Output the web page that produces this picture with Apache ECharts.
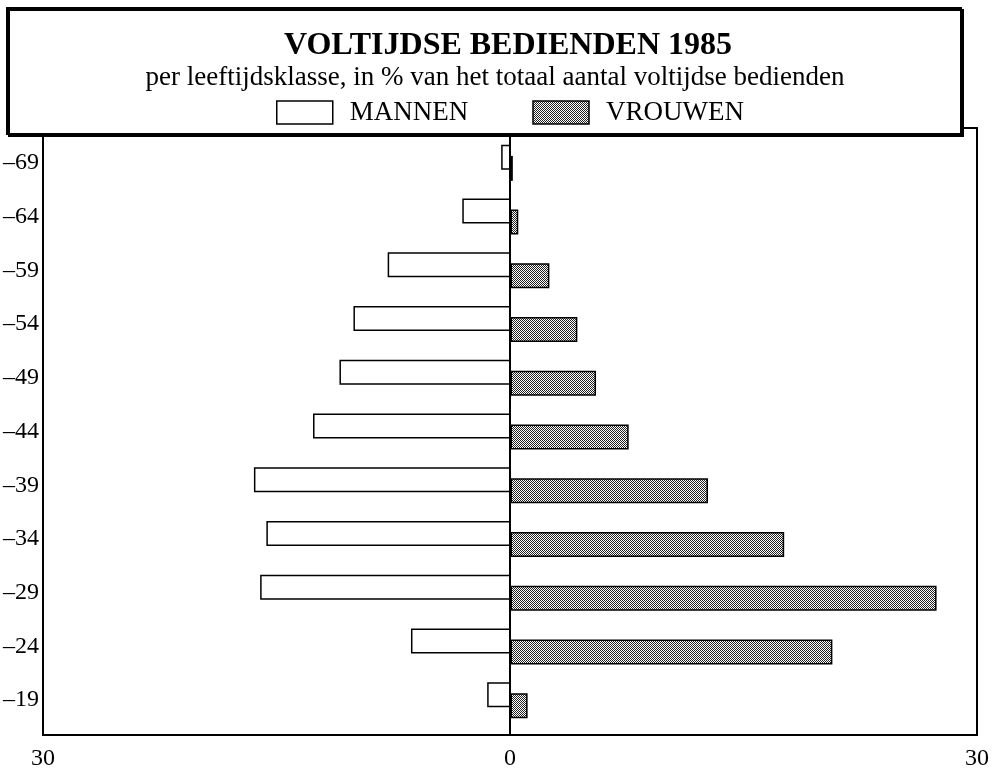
<!DOCTYPE html>
<html lang="nl">
<head>
<meta charset="UTF-8">
<title>Voltijdse bedienden 1985</title>
<script src="https://cdn.jsdelivr.net/npm/echarts@6/dist/echarts.min.js"></script>
</head>
<body style="margin:0;background:#fff">
<div id="chart" style="width:1003px;height:778px"></div>
<script>
    // leeftijdsklassen van onder naar boven
    var ageClasses = ['–19', '–24', '–29', '–34', '–39', '–44', '–49', '–54', '–59', '–64', '–69'];
    var mannen = [1.5, 6.4, 16.1, 15.7, 16.5, 12.7, 11.0, 10.1, 7.9, 3.1, 0.6];
    var vrouwen = [1.1, 20.7, 27.4, 17.6, 12.7, 7.6, 5.5, 4.3, 2.5, 0.5, 0.15];
    var xTicks = [-30, 0, 30];

    var FONT = '"Liberation Serif", "DejaVu Serif", serif';

    // grijs rasterpatroon voor de vrouwen
    function makeHatch() {
        var c = document.createElement('canvas');
        c.width = 4; c.height = 4;
        var ctx = c.getContext('2d');
        ctx.fillStyle = '#fff';
        ctx.fillRect(0, 0, 4, 4);
        ctx.fillStyle = '#222';
        for (var i = 0; i < 4; i++) {
            for (var j = 0; j < 4; j++) {
                if ((i + j) % 2 === 0) ctx.fillRect(i, j, 1, 1);
            }
        }
        return c;
    }
    var hatch = {image: makeHatch(), repeat: 'repeat'};

    var myChart = echarts.init(document.getElementById('chart'));

    var option = {
        animation: false,
        textStyle: {fontFamily: FONT, color: '#000'},
        title: [
            {
                text: 'VOLTIJDSE BEDIENDEN 1985',
                left: 503, top: 25, textAlign: 'center',
                textStyle: {fontFamily: FONT, fontSize: 32, fontWeight: 'bold', color: '#000'},
                z: 20
            },
            {
                text: 'per leeftijdsklasse, in % van het totaal aantal voltijdse bedienden',
                left: 490, top: 59, textAlign: 'center',
                textStyle: {fontFamily: FONT, fontSize: 27, fontWeight: 'normal', color: '#000'},
                z: 20
            }
        ],
        legend: {
            left: 271, top: 94,
            icon: 'rect',
            itemWidth: 56, itemHeight: 23,
            itemGap: 64,
            z: 20,
            textStyle: {fontFamily: FONT, fontSize: 27, color: '#000', padding: [0, 0, 0, 12]},
            data: [
                {name: 'MANNEN', itemStyle: {color: '#fff', borderColor: '#000', borderWidth: 1.5}},
                {name: 'VROUWEN', itemStyle: {color: hatch, borderColor: '#000', borderWidth: 1.5}}
            ]
        },
        graphic: [{
            type: 'rect',
            z: 10,
            shape: {x: 7, y: 8, width: 954, height: 126},
            style: {fill: '#fff', stroke: '#000', lineWidth: 2,
                shadowColor: '#000', shadowOffsetX: 2, shadowOffsetY: 2, shadowBlur: 0}
        }],
        grid: [
            // kader met nullijn
            {left: 43, right: 26, top: 128, bottom: 43, show: true, borderColor: '#000', borderWidth: 2},
            // staven
            {left: 43, right: 26, top: 136, bottom: 51}
        ],
        xAxis: [
            {
                gridIndex: 0, type: 'value', min: xTicks[0], max: xTicks[2], interval: 30,
                axisLine: {show: false}, axisTick: {show: false},
                splitLine: {show: true, lineStyle: {color: '#000', width: 2}},
                axisLabel: {fontFamily: FONT, fontSize: 24, color: '#000', margin: 12,
                    formatter: function (v) { return Math.abs(v); }}
            },
            {
                gridIndex: 1, type: 'value', min: xTicks[0], max: xTicks[2],
                show: false
            }
        ],
        yAxis: [
            {
                gridIndex: 0, type: 'value', show: false
            },
            {
                gridIndex: 1, type: 'category', data: ageClasses,
                axisLine: {show: false}, axisTick: {show: false},
                axisLabel: {fontFamily: FONT, fontSize: 24, color: '#000', margin: 5}
            }
        ],
        series: [
            {
                name: 'MANNEN', type: 'bar', xAxisIndex: 1, yAxisIndex: 1,
                barWidth: 25, barGap: '-56%',
                itemStyle: {color: '#fff', borderColor: '#000', borderWidth: 1.5},
                data: mannen.map(function (v) { return -v; })
            },
            {
                name: 'VROUWEN', type: 'bar', xAxisIndex: 1, yAxisIndex: 1,
                barWidth: 25, barGap: '-56%',
                itemStyle: {color: hatch, borderColor: '#000', borderWidth: 1.5},
                data: vrouwen
            }
        ]
    };
    myChart.setOption(option);
</script>
</body>
</html>
